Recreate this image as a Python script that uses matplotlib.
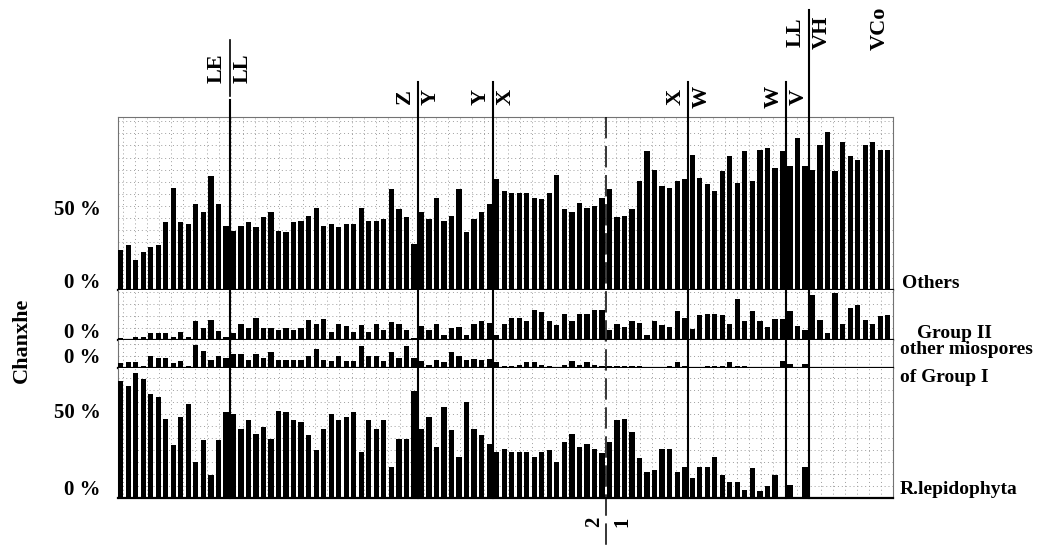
import numpy as np
import matplotlib
matplotlib.use("agg")
import matplotlib.pyplot as plt
from matplotlib.lines import Line2D
from matplotlib.transforms import blended_transform_factory

# percentages per sample (left to right, 103 samples)
others = [24, 27, 18, 23, 26, 27, 41, 62, 41, 40,
          52, 47, 69, 52, 39, 36, 39, 41, 38, 44,
          47, 36, 35, 41, 42, 45, 50, 39, 40, 38,
          40, 40, 50, 42, 42, 43, 61, 49, 44, 28,
          47, 43, 56, 42, 45, 61, 35, 43, 47, 52,
          67, 60, 59, 59, 59, 56, 55, 59, 70, 49,
          47, 53, 50, 51, 56, 61, 44, 45, 49, 66,
          84, 73, 63, 62, 66, 67, 82, 68, 64, 60,
          72, 81, 65, 84, 66, 85, 86, 74, 84, 75,
          92, 75, 73, 88, 96, 72, 90, 81, 79, 88,
          90, 85, 85]
group2 = [1.5, 0.5, 2, 2, 4, 4.5, 4, 2, 5, 2,
          11.5, 7.5, 12, 5.5, 2, 4, 10, 7.5, 13.5, 7,
          7, 6, 7.5, 6, 7, 12, 9.5, 12.5, 5, 9.5,
          8.5, 5, 9, 5, 9.5, 6, 11, 10, 6, 1.5,
          8.5, 6, 10, 3, 7, 8, 3, 10, 11.5, 10.5,
          3, 9.5, 13.5, 13.5, 11.5, 18, 17, 11.5, 9, 15.5,
          11.5, 15.5, 15.5, 18, 18, 6, 9.5, 8, 11.5, 10.5,
          3, 11.5, 9, 8, 17.5, 13.5, 6.5, 15, 16, 16,
          15, 9.5, 25, 11.5, 17.5, 11.5, 8, 13, 13, 17.5,
          8.5, 6, 27.5, 12, 4, 28.5, 10, 19.5, 21, 12,
          9.5, 14.5, 15]
other_mio = [3, 3.5, 3.5, 1.5, 7.5, 6, 6, 3, 4.5, 1,
             14, 10.5, 5, 7, 6, 8.5, 8.5, 5, 8.5, 6,
             10, 5, 5, 5, 5, 7.5, 11.5, 5, 4, 7.5,
             4, 4.5, 13.5, 7.5, 7.5, 4, 10, 6, 13.5, 6,
             4, 2, 5, 3.5, 9.5, 7.5, 5, 5.5, 5, 5.5,
             3.5, 1.5, 1.5, 2, 3.5, 3.5, 2, 1.5, 0.5, 2,
             4, 2, 3.5, 2, 1, 1, 1, 1, 1, 1,
             0.5, 0.5, 0.5, 1, 3.5, 1.5, 0.5, 0.5, 1.5, 1.5,
             1.5, 3.5, 1.5, 1.5, 0.5, 0.5, 0.5, 0.5, 4, 2.5,
             0.5, 2.5, 0, 0, 0, 0, 0, 0, 0, 0,
             0.5, 0, 0]
rlep = [71, 68, 76, 72, 63, 61, 48, 32, 49, 57,
        22, 35, 14, 35, 52, 51, 42, 47, 39, 43,
        36, 53, 52, 47, 46, 38, 29, 42, 51, 47,
        49, 52, 28, 47, 42, 47, 19, 36, 36, 65,
        42, 49, 31, 55, 41, 25, 58, 42, 38, 33,
        28, 30, 28, 28, 28, 25, 28, 29, 22, 34,
        39, 31, 33, 30, 27, 34, 47, 48, 40, 24,
        16, 17, 30, 30, 16, 19, 12, 19, 19, 25,
        14, 10, 10, 5, 18, 4, 7, 14, 0, 8,
        0, 19, 0, 0, 0, 0, 0, 0, 0, 0,
        0, 0, 0]

# zone boundaries (between samples) and their labels
zone_x = [14.5, 39.5, 49.5, 75.5, 88.5, 91.5]
zone_left = ["LE", "Z", "Y", "X", "W", "LL"]
zone_right = ["LL", "Y", "X", "W", "V", "VH"]
split_x = 64.5   # dashed boundary 2 | 1

plt.rcParams["font.family"] = ["Liberation Serif", "DejaVu Serif"]
plt.rcParams["font.weight"] = "bold"

W, H = 1063, 549
PX_PER_PCT = 1.65
fig = plt.figure(figsize=(W / 100, H / 100), dpi=100)

def fx(px):
    return px / W

def fy(py):
    return 1 - py / H

L, R = 118, 893
panels = [(117, 290), (290, 340), (340, 368), (368, 498)]
x = np.arange(len(others))
axes = []
for i, ((top, bot), vals) in enumerate(zip(panels, [others, group2, other_mio, rlep])):
    ax = fig.add_axes([fx(L), fy(bot), (R - L) / W, (bot - top) / H])
    ax.bar(x, vals, width=0.7, color="black", linewidth=0, zorder=3)
    ax.set_xlim(-0.35, len(x) - 0.65)
    ax.set_ylim(0, (bot - top) / PX_PER_PCT)
    ax.set_xticks(np.arange(0.3, len(x), 1.6))
    ax.set_yticks(np.arange(0, (bot - top) / PX_PER_PCT, 7.3))
    ax.tick_params(length=0, labelbottom=False, labelleft=False)
    ax.grid(True, color="0.62", linestyle=(0, (1, 3)), linewidth=0.7)
    ax.set_axisbelow(True)
    for s in ["left", "right", "top"]:
        ax.spines[s].set_color("0.45")
        ax.spines[s].set_linewidth(0.8)
    if i > 0:
        ax.spines["top"].set_visible(False)
    ax.spines["bottom"].set_color("black")
    ax.spines["bottom"].set_linewidth(1.6)
    axes.append(ax)

trans = blended_transform_factory(axes[0].transData, fig.transFigure)

# zone lines
line_tops = [100, 82, 82, 82, 82, 10]
for zx, ytop in zip(zone_x, line_tops):
    fig.add_artist(Line2D([zx, zx], [fy(ytop), fy(498)], transform=trans,
                          color="black", linewidth=1.5, zorder=5))
fig.add_artist(Line2D([zone_x[0], zone_x[0]], [fy(40), fy(96)], transform=trans,
                      color="black", linewidth=1.2, zorder=5))

label_y = [68, 97, 97, 97, 97, 32]
for zx, ly, lt, rt in zip(zone_x, label_y, zone_left, zone_right):
    axes[0].annotate(lt, xy=(zx, fy(ly)), xycoords=trans, xytext=(-2, 0),
                     textcoords="offset points", rotation=90, ha="right",
                     va="center", fontsize=16, fontweight="bold",
                     annotation_clip=False)
    axes[0].annotate(rt, xy=(zx, fy(ly)), xycoords=trans, xytext=(2, 0),
                     textcoords="offset points", rotation=90, ha="left",
                     va="center", fontsize=16, fontweight="bold",
                     annotation_clip=False)
fig.text(fx(880), fy(28), "VCo", rotation=90, ha="center", va="center",
         fontsize=16, fontweight="bold")

# dashed boundary between 2 and 1
fig.add_artist(Line2D([split_x, split_x], [fy(117), fy(548)], transform=trans,
                      color="black", linewidth=1.1, linestyle=(0, (14, 5)), zorder=5))
axes[0].annotate("2", xy=(split_x, fy(522)), xycoords=trans, xytext=(-1, 0),
                 textcoords="offset points", rotation=90, ha="right", va="center",
                 fontsize=15, annotation_clip=False)
axes[0].annotate("1", xy=(split_x, fy(522)), xycoords=trans, xytext=(5, 0),
                 textcoords="offset points", rotation=90, ha="left", va="center",
                 fontsize=15, annotation_clip=False)

# left percentage labels
for txt, py in [("50 %", 210), ("0 %", 283), ("0 %", 333), ("0 %", 358),
                ("50 %", 413), ("0 %", 490)]:
    fig.text(fx(101), fy(py), txt, ha="right", va="center", fontsize=15)

# right series labels
for txt, px, py in [("Others", 902, 283), ("Group II", 917, 333),
                    ("other miospores", 900, 350), ("of Group I", 900, 377),
                    ("R.lepidophyta", 900, 490)]:
    fig.text(fx(px), fy(py), txt, ha="left", va="center", fontsize=14)

fig.text(fx(22), fy(340), "Chanxhe", rotation=90, ha="center", va="center",
         fontsize=16)

plt.savefig("out.png", dpi=100)
